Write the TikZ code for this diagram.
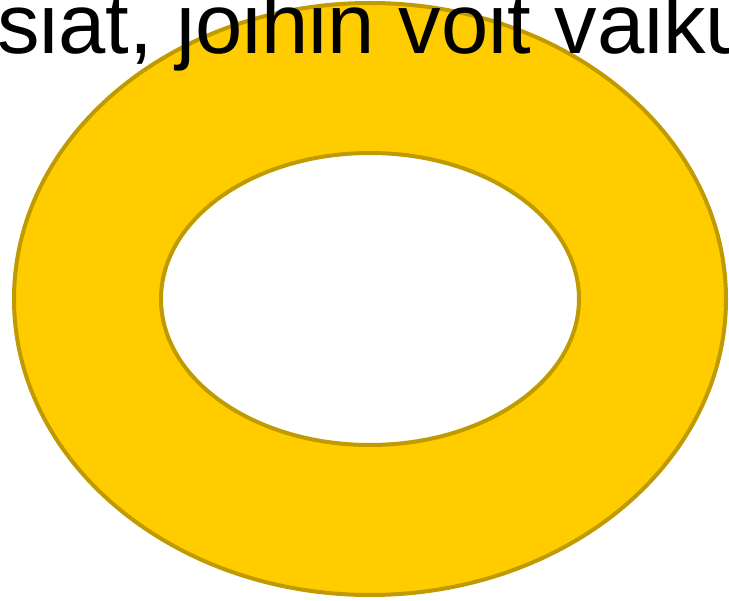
\documentclass[tikz,border=0pt]{standalone}
\usepackage{fontspec}
\setmainfont{Liberation Sans}
\usepackage{xcolor}
\definecolor{ringyellow}{HTML}{FFCC00}
\definecolor{ringedge}{HTML}{BF9A00}
\tikzset{
  ringband/.style={fill=ringyellow,even odd rule},
  ringline/.style={draw=ringedge,line width=4pt},
  ttl/.style={inner sep=0pt,anchor=base west,font=\fontsize{85}{100}\selectfont},
}
\begin{document}
\begin{tikzpicture}[x=1pt,y=-1pt]
  \useasboundingbox (0,0) rectangle (729,601);
  \clip (0,0) rectangle (729,601);
  \coordinate (c) at (370,299);
  \path[ringband] (c) ellipse [x radius=356pt, y radius=296pt]
                  (c) ellipse [x radius=209pt, y radius=146pt];
  \draw[ringline] (c) ellipse [x radius=356pt, y radius=296pt];
  \draw[ringline] (c) ellipse [x radius=209pt, y radius=146pt];
  \node[ttl] (title) at (-3,54) {siat, joihin voit vaiku};
\end{tikzpicture}
\end{document}
